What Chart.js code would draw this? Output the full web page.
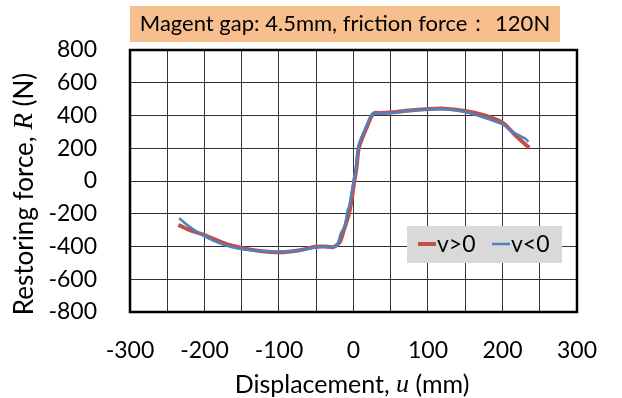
<!DOCTYPE html>
<html>
<head>
<meta charset="utf-8">
<script src="https://cdn.jsdelivr.net/npm/chart.js@4.4.0/dist/chart.umd.min.js"></script>
<style>
    html, body { margin: 0; padding: 0; background: #fff; }
    #wrap { width: 622px; height: 398px; }
</style>
</head>
<body>
<div id="wrap"><canvas id="grafico"></canvas></div>
<script>
// dados (deslocamento em mm, força em N)
const dispUp = [-235, -220, -200, -174, -149, -126, -100, -74, -52, -40, -28, -24, -18, -13, -8, -5, -2, 1, 4, 7, 12, 18, 24, 28, 35, 52, 78, 100, 122, 148, 174, 200, 217, 230, 236];
const forceUp = [-268, -300, -330, -380, -410, -427, -435, -424, -402, -400, -404, -397, -370, -300, -230, -177, -100, -5, 80, 200, 265, 330, 395, 415, 415, 420, 432, 440, 442, 429, 403, 356, 281, 226, 203];

const dispDown = [-234, -220, -200, -174, -149, -126, -100, -74, -52, -40, -30, -22, -17, -12, -8, -6, -2, 0, 3.5, 6.5, 11, 17, 23, 27, 35, 52, 78, 100, 122, 148, 174, 200, 217, 230, 235];
const forceDown = [-228, -280, -338, -390, -417, -427, -432, -424, -408, -402, -405, -392, -320, -280, -180, -157, -55, 0, 87, 210, 271, 332, 393, 415, 412, 416, 430, 438, 438, 423, 389, 346, 291, 261, 240];

const xTicks = [-300, -200, -100, 0, 100, 200, 300];
const yTicks = [-800, -600, -400, -200, 0, 200, 400, 600, 800];

const titulo = 'Magent gap: 4.5mm, friction force\uFF1A 120N';
const seriesNomes = ['v>0', 'v<0'];
const cores = ['#C0504D', '#4F81BD'];

const toPoints = (xs, ys) => xs.map((x, i) => ({ x, y: ys[i] }));

const FONT = 'Lato, "Noto Sans", sans-serif';

// desenha texto com partes em itálico (serif)
function drawMixed(ctx, parts, cx, cy) {
    let total = 0;
    parts.forEach(p => { ctx.font = p.font; total += ctx.measureText(p.t).width; });
    let x = cx - total / 2;
    ctx.textAlign = 'left';
    ctx.textBaseline = 'middle';
    parts.forEach(p => {
        ctx.font = p.font;
        ctx.fillText(p.t, x, cy);
        x += ctx.measureText(p.t).width;
    });
}

const extras = {
    id: 'extras',
    beforeDatasetsDraw(chart) {
        const { ctx, chartArea: a } = chart;
        ctx.save();
        ctx.strokeStyle = '#000';
        ctx.lineWidth = 2.5;
        ctx.strokeRect(a.left, a.top, a.right - a.left, a.bottom - a.top);
        ctx.restore();
    },
    afterDraw(chart) {
        const { ctx } = chart;
        ctx.save();

        // título com fundo laranja
        ctx.fillStyle = '#F7BE8E';
        ctx.fillRect(130, 6, 430, 36);
        ctx.fillStyle = '#000';
        ctx.font = '22px ' + FONT;
        ctx.textAlign = 'center';
        ctx.textBaseline = 'middle';
        ctx.fillText(titulo, 345, 24);

        // legenda
        ctx.fillStyle = '#D9D9D9';
        ctx.fillRect(407, 226, 155, 37);
        const lx = [418, 492];
        seriesNomes.forEach((nome, i) => {
            ctx.strokeStyle = cores[i];
            ctx.lineWidth = i === 0 ? 4 : 2.5;
            ctx.beginPath();
            ctx.moveTo(lx[i], 244);
            ctx.lineTo(lx[i] + 18, 244);
            ctx.stroke();
            ctx.fillStyle = '#000';
            ctx.font = '23px ' + FONT;
            ctx.textAlign = 'left';
            ctx.textBaseline = 'middle';
            ctx.fillText(nome, lx[i] + 19, 245);
        });

        // títulos dos eixos
        ctx.fillStyle = '#000';
        const normal = '25px ' + FONT;
        const ital = 'italic 26px "Liberation Serif", serif';
        drawMixed(ctx, [
            { t: 'Displacement, ', font: normal },
            { t: 'u', font: ital },
            { t: ' (mm)', font: normal }
        ], 352, 385);

        const normalY = '26px ' + FONT;
        const italY = 'italic 27px "Liberation Serif", serif';
        ctx.translate(25, 194);
        ctx.rotate(-Math.PI / 2);
        drawMixed(ctx, [
            { t: 'Restoring force, ', font: normalY },
            { t: 'R', font: italY },
            { t: ' (N)', font: normalY }
        ], 0, 0);
        ctx.restore();
    }
};

new Chart(document.getElementById('grafico').getContext('2d'), {
    type: 'scatter',
    data: {
        datasets: [
            {
                label: seriesNomes[0],
                data: toPoints(dispUp, forceUp),
                showLine: true,
                borderColor: cores[0],
                borderWidth: 4,
                pointRadius: 0,
                tension: 0.3,
                order: 1
            },
            {
                label: seriesNomes[1],
                data: toPoints(dispDown, forceDown),
                showLine: true,
                borderColor: cores[1],
                borderWidth: 2.5,
                pointRadius: 0,
                tension: 0.3,
                order: 0
            }
        ]
    },
    options: {
        responsive: true,
        maintainAspectRatio: false,
        animation: false,
        layout: { padding: { top: 50, right: 32, left: 0, bottom: 0 } },
        plugins: {
            legend: { display: false },
            tooltip: { enabled: false }
        },
        scales: {
            x: {
                type: 'linear',
                min: -300,
                max: 300,
                afterFit: s => { s.height = 86; },
                afterBuildTicks: s => {
                    const t = [];
                    for (let v = -300; v <= 300; v += 50) t.push({ value: v });
                    s.ticks = t;
                },
                ticks: {
                    color: '#000',
                    font: { family: FONT, size: 23 },
                    padding: 25,
                    maxRotation: 0,
                    autoSkip: false,
                    callback: v => xTicks.includes(v) ? String(v) : ''
                },
                grid: { color: '#333', lineWidth: 1, drawTicks: false },
                border: { display: false }
            },
            y: {
                type: 'linear',
                min: -800,
                max: 800,
                afterFit: s => { s.width = 130; },
                afterBuildTicks: s => { s.ticks = yTicks.map(v => ({ value: v })); },
                ticks: {
                    color: '#000',
                    font: { family: FONT, size: 23 },
                    padding: 33,
                    autoSkip: false
                },
                grid: { color: '#333', lineWidth: 1, drawTicks: false },
                border: { display: false }
            }
        }
    },
    plugins: [extras]
});
</script>
</body>
</html>
